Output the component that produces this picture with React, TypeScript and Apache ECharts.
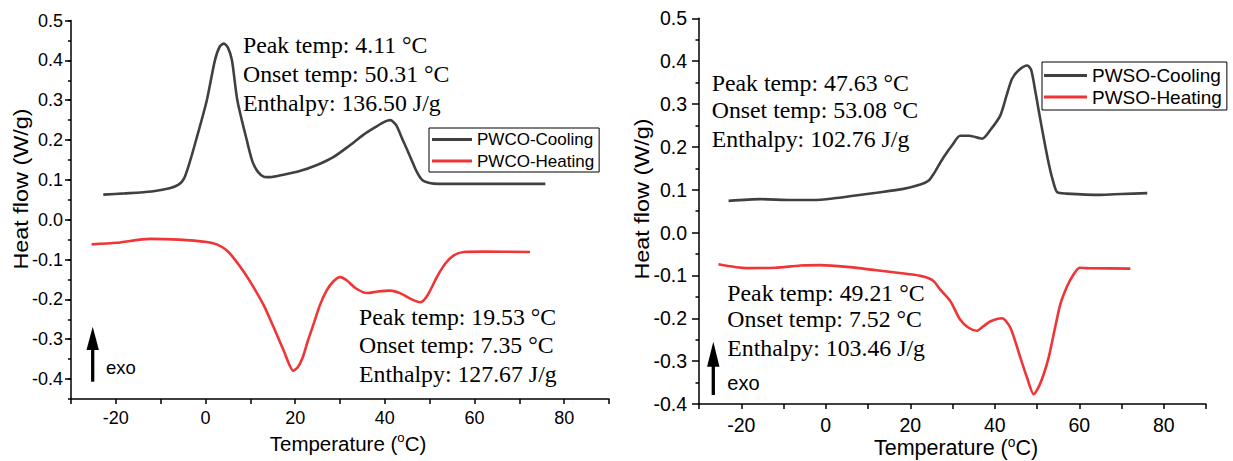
import React, { useEffect, useRef } from 'react';
import * as echarts from 'echarts';

// ---------------- data ----------------
const pwcoCooling: [number, number][] = [
  [-22.8, 0.063], [-18, 0.066], [-12, 0.071], [-8, 0.079], [-6, 0.088], [-4.8, 0.103],
  [-3.5, 0.145], [-2.1, 0.2], [0.3, 0.3], [2.1, 0.4], [3.2, 0.435], [4.1, 0.442],
  [5.0, 0.432], [5.9, 0.4], [7.1, 0.3], [9.2, 0.2], [10.5, 0.145], [11.7, 0.12],
  [13, 0.108], [14.5, 0.107], [17, 0.112], [21, 0.122], [25, 0.138], [28.5, 0.157],
  [32, 0.185], [35.2, 0.213], [38, 0.233], [40, 0.246], [41.2, 0.25], [42.5, 0.238],
  [44, 0.2], [45.7, 0.157], [47, 0.123], [48.3, 0.1], [50, 0.092], [52, 0.09],
  [60, 0.09], [68, 0.09], [75.8, 0.09],
];
const pwcoHeating: [number, number][] = [
  [-25.4, -0.062], [-19.8, -0.058], [-12.4, -0.048], [-6, -0.05], [0.3, -0.056],
  [2.5, -0.062], [4.5, -0.075], [6.2, -0.095], [8.5, -0.13], [10.7, -0.169],
  [13, -0.215], [15.2, -0.27], [17.5, -0.33], [19.6, -0.379], [20.6, -0.37],
  [21.7, -0.345], [22.8, -0.305], [24.1, -0.262], [25.5, -0.215], [27, -0.178],
  [28.5, -0.155], [30, -0.144], [31.5, -0.152], [33.5, -0.172], [36, -0.184],
  [38.5, -0.18], [41.2, -0.178], [43.5, -0.185], [46, -0.2], [47.9, -0.207],
  [49.5, -0.19], [51.6, -0.144], [53.5, -0.11], [55.3, -0.09], [57.6, -0.081],
  [62, -0.08], [72.4, -0.081],
];
const pwsoCooling: [number, number][] = [
  [-23, 0.074], [-15.5, 0.078], [-8, 0.076], [-2.9, 0.076], [2, 0.08], [6.6, 0.086],
  [12, 0.093], [18.4, 0.102], [22.4, 0.112], [24.3, 0.121], [25.6, 0.138], [26.8, 0.158],
  [27.9, 0.176], [30, 0.205], [31.8, 0.226], [34, 0.226], [37, 0.219], [39, 0.24],
  [41.3, 0.273], [42.8, 0.32], [44.1, 0.359], [45.8, 0.38], [47.7, 0.39], [48.6, 0.38],
  [49.6, 0.33], [50.4, 0.285], [51.6, 0.22], [52.8, 0.16], [53.8, 0.12], [54.8, 0.094],
  [57, 0.091], [65, 0.088], [70, 0.09], [76.1, 0.092],
];
const pwsoHeating: [number, number][] = [
  [-25.4, -0.074], [-18.7, -0.083], [-12, -0.082], [-6, -0.077], [-1.3, -0.076],
  [5, -0.08], [12, -0.088], [18, -0.095], [22.4, -0.101], [24.5, -0.107], [25.7, -0.115],
  [27.1, -0.133], [29.5, -0.16], [31.8, -0.203], [33.8, -0.222], [35.8, -0.229],
  [37.4, -0.218], [39, -0.207], [41.7, -0.2], [43.7, -0.222], [46.1, -0.293],
  [47.7, -0.34], [49.2, -0.377], [50.4, -0.36], [51.6, -0.33], [52.8, -0.29],
  [54, -0.235], [55.5, -0.168], [57, -0.128], [58.5, -0.1], [60.1, -0.082],
  [62, -0.083], [72.1, -0.084],
];

const xLabelValues = [-20, 0, 20, 40, 60, 80];
const yMajorValues = [-0.4, -0.3, -0.2, -0.1, 0, 0.1, 0.2, 0.3, 0.4, 0.5];

const seriesNames = ['PWCO-Cooling', 'PWCO-Heating', 'PWSO-Cooling', 'PWSO-Heating'];

const annotPwcoCooling = ['Peak temp: 4.11 °C', 'Onset temp: 50.31 °C', 'Enthalpy: 136.50 J/g'];
const annotPwcoHeating = ['Peak temp: 19.53 °C', 'Onset temp: 7.35 °C', 'Enthalpy: 127.67 J/g'];
const annotPwsoCooling = ['Peak temp: 47.63 °C', 'Onset temp: 53.08 °C', 'Enthalpy: 102.76 J/g'];
const annotPwsoHeating = ['Peak temp: 49.21 °C', 'Onset temp: 7.52 °C', 'Enthalpy: 103.46 J/g'];

// ---------------- styles ----------------
const SANS = '"Liberation Sans", Arial, sans-serif';
const SERIF = '"Liberation Serif", "Times New Roman", serif';
const GRAY = '#404040';
const RED = '#ef3535';

const fmtY = (v: number) => (Math.abs(v) < 1e-9 ? '0.0' : v.toFixed(1));
const fmtX = (v: number) => (xLabelValues.some((t) => Math.abs(t - v) < 1e-9) ? String(Math.round(v)) : '');

function xAxis(grid: number, fs: number, margin: number) {
  return {
    type: 'value', gridIndex: grid, min: -30, max: 90, interval: 10,
    axisLine: { show: true, onZero: false, lineStyle: { color: '#000', width: 1.5 } },
    axisTick: { show: true, length: 5, lineStyle: { color: '#000', width: 1.5 } },
    axisLabel: { margin, fontSize: fs, fontFamily: SANS, color: '#000', formatter: fmtX },
    splitLine: { show: false },
  };
}

function annot(lines: string[], x: number, ys: number[], fs: number) {
  return lines.map((t, i) => ({
    type: 'text', x, y: ys[i], silent: true,
    style: { text: t, fontSize: fs, fontFamily: SERIF, fill: '#000', align: 'left', verticalAlign: 'middle' },
  }));
}

function arrow(x: number, top: number, headBase: number, bottom: number, half: number, lw: number) {
  return [
    { type: 'line', shape: { x1: x, y1: bottom, x2: x, y2: headBase - 2 }, style: { stroke: '#000', lineWidth: lw } },
    { type: 'polygon', shape: { points: [[x, top], [x - half, headBase], [x + half, headBase]] }, style: { fill: '#000' } },
  ];
}

function tempTitle(x: number, y: number, fs: number) {
  return {
    type: 'text', x, y,
    style: {
      text: '{n|Temperature (}{sup|o}{n|C)}', fontFamily: SANS, fill: '#000',
      align: 'center', verticalAlign: 'middle',
      rich: {
        n: { fontSize: fs, lineHeight: fs * 1.2, fontFamily: SANS, fill: '#000', verticalAlign: 'middle' },
        sup: {
          fontSize: fs * 0.64, lineHeight: fs * 0.72, fontFamily: SANS, fill: '#000',
          verticalAlign: 'top',
        },
      },
    },
  };
}

function heatTitle(x: number, y: number, fs: number, stretch: number) {
  return {
    type: 'text', x, y, rotation: Math.PI / 2, scaleX: stretch,
    style: { text: 'Heat flow (W/g)', fontSize: fs, fontFamily: SANS, fill: '#000', align: 'center', verticalAlign: 'middle' },
  };
}

function lineSeries(name: string, data: [number, number][], color: string, xi: number, yi: number) {
  return {
    name, type: 'line', data, xAxisIndex: xi, yAxisIndex: yi, symbol: 'none', smooth: 0.25,
    lineStyle: { color, width: 2.6 }, itemStyle: { color },
  };
}

const option: any = {
  animation: false,
  backgroundColor: '#fff',
  grid: [
    { left: 71, top: 20.5, width: 538, height: 378.5, containLabel: false },
    { left: 699, top: 18.3, width: 507, height: 385.7, containLabel: false },
  ],
  xAxis: [xAxis(0, 18, 10), xAxis(1, 19.5, 11)],
  yAxis: [
    {
      type: 'value', gridIndex: 0, position: 'left', min: -0.45, max: 0.5, interval: 0.05,
      axisLine: { show: true, onZero: false, lineStyle: { color: '#000', width: 1.5 } },
      axisTick: { show: true, length: 3, lineStyle: { color: '#000', width: 1.5 } },
      axisLabel: { show: false }, splitLine: { show: false },
    },
    {
      type: 'value', gridIndex: 0, position: 'left', min: -0.45, max: 0.5, interval: 0.05,
      axisLine: { show: false, onZero: false },
      axisTick: { show: true, length: 6, customValues: yMajorValues, lineStyle: { color: '#000', width: 1.5 } },
      axisLabel: { show: true, customValues: yMajorValues, margin: 8, fontSize: 18, fontFamily: SANS, color: '#000', formatter: fmtY },
      splitLine: { show: false },
    },
    {
      type: 'value', gridIndex: 1, position: 'left', min: -0.4, max: 0.5, interval: 0.1,
      axisLine: { show: true, onZero: false, lineStyle: { color: '#000', width: 1.5 } },
      axisTick: { show: true, length: 7, lineStyle: { color: '#000', width: 1.5 } },
      minorTick: { show: true, splitNumber: 2, length: 3.5, lineStyle: { color: '#000', width: 1.5 } },
      axisLabel: { margin: 12, fontSize: 19.5, fontFamily: SANS, color: '#000', formatter: fmtY },
      splitLine: { show: false },
    },
  ],
  legend: [
    {
      data: [seriesNames[0], seriesNames[1]], orient: 'vertical', left: 429, top: 128,
      borderColor: '#000', borderWidth: 1, borderRadius: 0, padding: [3, 5, 2.5, 3],
      icon: 'rect', itemWidth: 40, itemHeight: 3, itemGap: 4.5,
      textStyle: { fontSize: 17, fontFamily: SANS, color: '#000' },
    },
    {
      data: [seriesNames[2], seriesNames[3]], orient: 'vertical', left: 1042, top: 62,
      borderColor: '#000', borderWidth: 1, borderRadius: 0, padding: [4, 5, 3.5, 2],
      icon: 'rect', itemWidth: 43, itemHeight: 3, itemGap: 2.5,
      textStyle: { fontSize: 19, fontFamily: SANS, color: '#000' },
    },
  ],
  series: [
    lineSeries(seriesNames[0], pwcoCooling, GRAY, 0, 0),
    lineSeries(seriesNames[1], pwcoHeating, RED, 0, 0),
    lineSeries(seriesNames[2], pwsoCooling, GRAY, 1, 2),
    lineSeries(seriesNames[3], pwsoHeating, RED, 1, 2),
  ],
  graphic: [
    ...annot(annotPwcoCooling, 243, [45, 74, 103], 23.8),
    ...annot(annotPwcoHeating, 359, [317, 345, 373.5], 23.8),
    ...annot(annotPwsoCooling, 711.7, [82.5, 110, 139], 23.8),
    ...annot(annotPwsoHeating, 727.3, [292.5, 319, 347.5], 23.8),
    ...arrow(92.7, 326.7, 350, 381.7, 6.2, 3.3),
    { type: 'text', x: 106, y: 367, style: { text: 'exo', fontSize: 18.5, fontFamily: SANS, fill: '#000', verticalAlign: 'middle' } },
    ...arrow(713.3, 341.7, 366.7, 395, 6.2, 3.3),
    { type: 'text', x: 727.3, y: 383.3, style: { text: 'exo', fontSize: 20, fontFamily: SANS, fill: '#000', verticalAlign: 'middle' } },
    heatTitle(21, 189, 20, 1.17),
    heatTitle(642.5, 199, 20, 1.17),
    tempTitle(348, 443, 20.5),
    tempTitle(956, 448, 21.5),
  ],
};

export default function App() {
  const ref = useRef<HTMLDivElement>(null);
  useEffect(() => {
    if (!ref.current) return;
    const chart = echarts.init(ref.current, null, { renderer: 'svg' });
    chart.setOption(option);
    return () => chart.dispose();
  }, []);
  return (
    <div
      ref={ref}
      style={{ position: 'absolute', left: 0, top: 0, width: 1233, height: 461, background: '#fff' }}
    />
  );
}
